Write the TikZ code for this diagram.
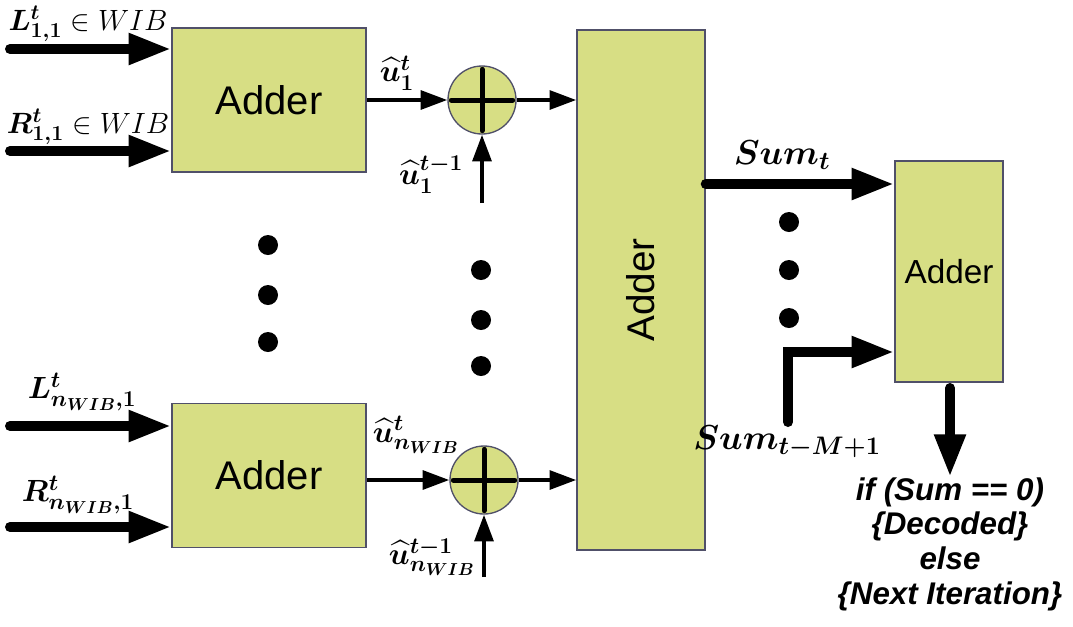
\RequirePackage{fix-cm}
\documentclass[tikz,border=0pt]{standalone}
\usepackage{amsmath,bm}
\usepackage{fontspec}
\setmainfont{Liberation Sans}
\usetikzlibrary{arrows.meta}
\definecolor{addfill}{RGB}{215,222,132}
\definecolor{addborder}{RGB}{80,80,105}
\newcommand{\uhat}{\widehat{u}}
\DeclareMathSizes{22}{22}{16}{12}
\DeclareMathSizes{23}{23}{17}{13}
\DeclareMathSizes{26}{26}{19}{14}
\begin{document}
\begin{tikzpicture}[x=0.75pt,y=-0.75pt,
  adderbox/.style={draw=addborder,line width=1.1pt,fill=addfill,inner sep=0pt},
  sumcircle/.style={circle,draw=addborder,line width=1pt,fill=addfill,minimum size=51pt,inner sep=0pt},
  bigarrow/.style={line width=7.5pt,line cap=round,-{Triangle[length=32pt,width=22pt]}},
  smallarrow/.style={line width=3pt,-{Triangle[length=20pt,width=14pt]}},
  plusline/.style={line width=3.75pt,line cap=round},
  lbl/.style={inner sep=0pt,font=\fontsize{23}{26}\selectfont},
  toplbl/.style={inner sep=0pt,font=\fontsize{22}{25}\selectfont},
  sumlbl/.style={inner sep=0pt,font=\fontsize{26}{30}\selectfont},
  dotmark/.style={fill=black}]
\useasboundingbox (0,0) rectangle (1073,626);

% adders
\node[adderbox,minimum width=145.5pt,minimum height=108pt,font=\fontsize{30}{36}\selectfont] (A1) at (269,100) {Adder};
\node[adderbox,minimum width=145.5pt,minimum height=108pt,font=\fontsize{30}{36}\selectfont] (A2) at (269,475.5) {Adder};
\node[adderbox,minimum width=96pt,minimum height=390pt] (Big) at (641,290) {};
\node[rotate=90,inner sep=0pt,font=\fontsize{29}{34}\selectfont] (BigT) at (Big.center) {Adder};
\node[adderbox,minimum width=81pt,minimum height=165.75pt,font=\fontsize{25}{30}\selectfont] (Ra) at (949,271.5) {Adder};

% summing circles
\node[sumcircle] (C1) at (482,100) {};
\node[sumcircle] (C2) at (484,480) {};
\draw[plusline] ([xshift=3pt]C1.west) -- ([xshift=-3pt]C1.east);
\draw[plusline] ([yshift=-3pt]C1.north) -- ([yshift=3pt]C1.south);
\draw[plusline] ([xshift=3pt]C2.west) -- ([xshift=-3pt]C2.east);
\draw[plusline] ([yshift=-3pt]C2.north) -- ([yshift=3pt]C2.south);

% input arrows
\coordinate (inL1) at (10,49);
\coordinate (inR1) at (10,151);
\coordinate (inL2) at (10,426);
\coordinate (inR2) at (10,527);
\draw[bigarrow] (inL1) -- (inL1 -| A1.west);
\draw[bigarrow] (inR1) -- (inR1 -| A1.west);
\draw[bigarrow] (inL2) -- (inL2 -| A2.west);
\draw[bigarrow] (inR2) -- (inR2 -| A2.west);

% adder -> circle -> big adder
\draw[smallarrow] (C1.west -| A1.east) -- (C1.west);
\draw[smallarrow] (C1.east) -- (C1.east -| Big.west);
\draw[smallarrow] (C2.west -| A2.east) -- (C2.west);
\draw[smallarrow] (C2.east) -- (C2.east -| Big.west);
\coordinate (u1in) at (482,203);
\coordinate (u2in) at (484,577);
\draw[smallarrow] (u1in) -- (C1.south);
\draw[smallarrow] (u2in) -- (C2.south);

% sums into the right adder
\coordinate (sty) at (0,184);
\draw[bigarrow] (Big.east |- sty) -- (Ra.west |- sty);
\coordinate (sm) at (788,422);
\coordinate (smc) at (788,352);
\draw[bigarrow] (sm) -- (smc) -- (smc -| Ra.west);
\coordinate (outs) at (950,388);
\coordinate (out) at (950,477);
\draw[bigarrow] (outs) -- (out);

% dots
\foreach \y in {245,295,342} \fill[dotmark] (268,\y) circle[radius=7.5pt];
\foreach \y in {270,320,366} \fill[dotmark] (481,\y) circle[radius=7.5pt];
\foreach \y in {222,270,318} \fill[dotmark] (789,\y) circle[radius=7.5pt];

% labels
\node[toplbl] (lL1) at (88,24) {$\bm{L^{t}_{1,1}}\in WIB$};
\node[toplbl] (lR1) at (88,127) {$\bm{R^{t}_{1,1}}\in WIB$};
\node[lbl] (lL2) at (82,392) {$\bm{L^{t}_{n_{WIB},1}}$};
\node[lbl] (lR2) at (78,495) {$\bm{R^{t}_{n_{WIB},1}}$};
\node[lbl] (lu1) at (397,73) {$\bm{\uhat^{t}_{1}}$};
\node[lbl] (lu1p) at (431,175) {$\bm{\uhat^{t-1}_{1}}$};
\node[lbl] (lu2) at (416,435) {$\bm{\uhat^{t}_{n_{WIB}}}$};
\node[lbl] (lu2p) at (432,557) {$\bm{\uhat^{t-1}_{n_{WIB}}}$};
\node[sumlbl] (lst) at (782,155) {$\bm{Sum_{t}}$};
\node[sumlbl] (lsm) at (787,442) {$\bm{Sum_{t-M+1}}$};

% decision text
\node[font=\fontsize{23.5}{26}\selectfont\bfseries\itshape,align=center,inner sep=0pt] (dec) at (950,544)
  {if (Sum == 0)\\\{Decoded\}\\else\\\{Next Iteration\}};
\end{tikzpicture}
\end{document}
